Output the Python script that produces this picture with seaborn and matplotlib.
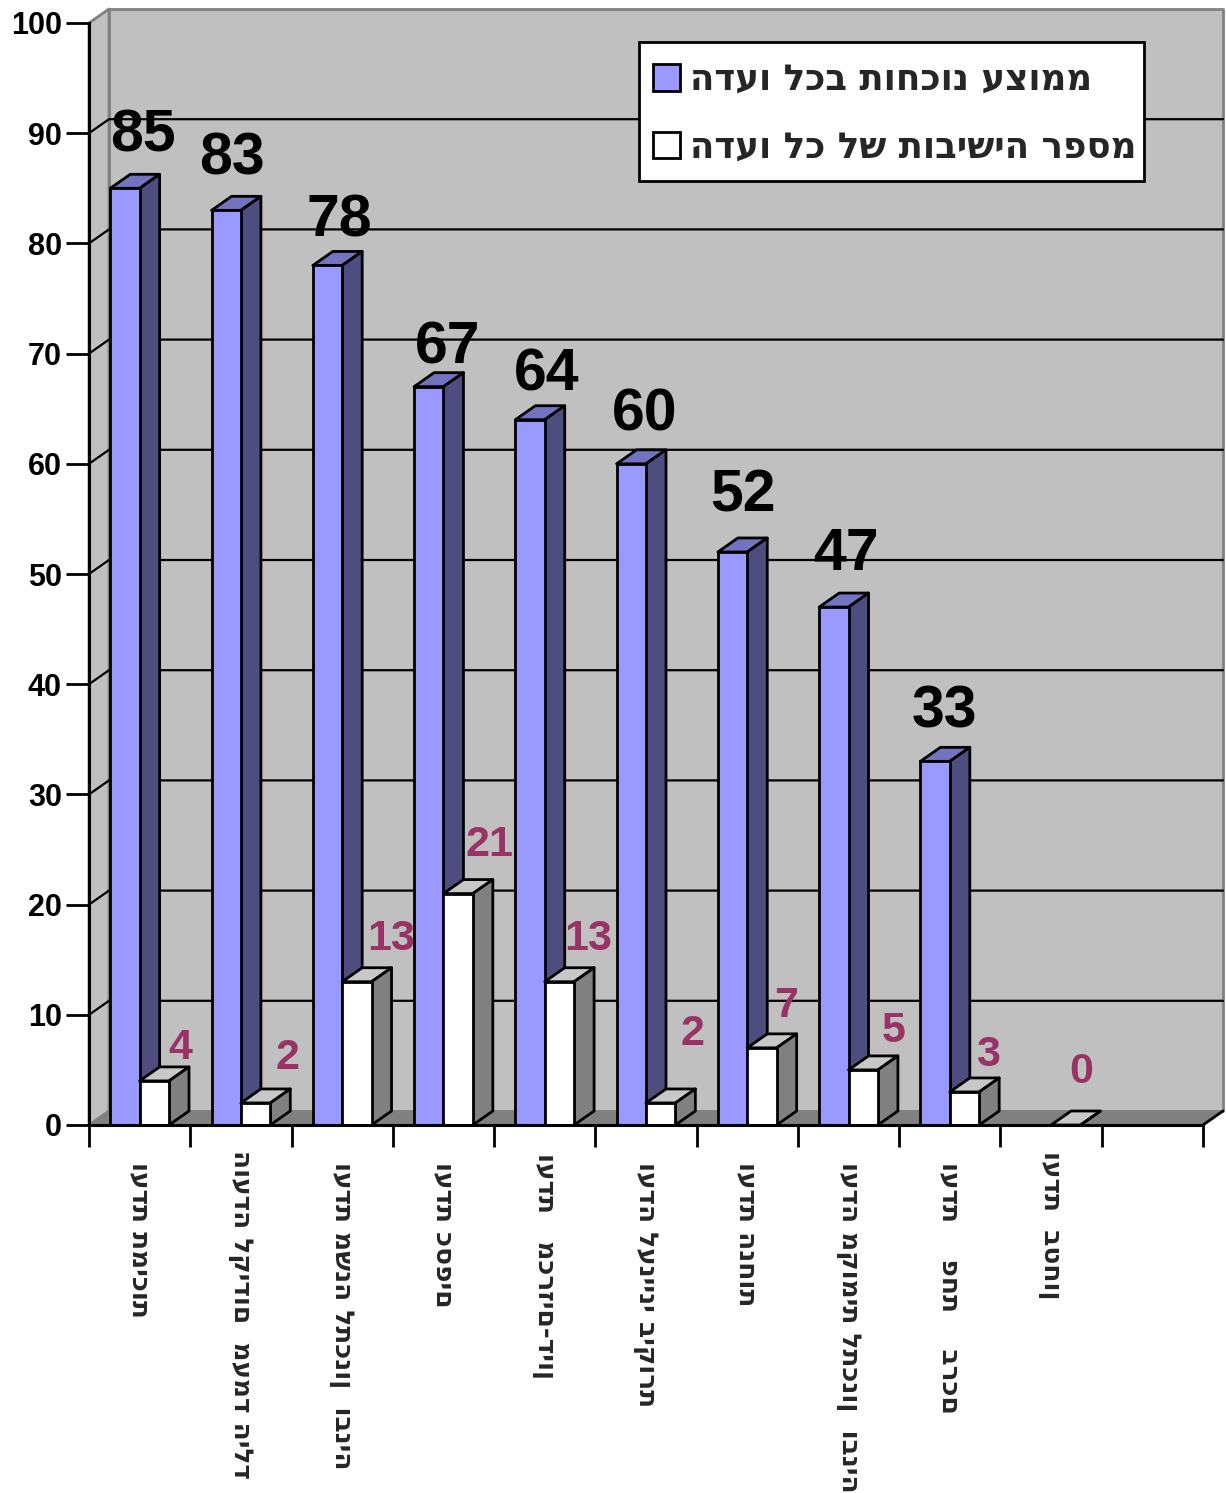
import matplotlib
matplotlib.use('Agg')
import matplotlib.pyplot as plt
from matplotlib.patches import Rectangle
import pandas as pd
import numpy as np
import seaborn as sns

# extra blanks between words: the original labels are spread out wider than the font
committees = ['ועדת תמיכות', 'הועדה לקידום  מעמד הילד', 'ועדת משנה לתכנון  ובניה', 'ועדת כספים',
              'ועדת   מכרזים-דיון', 'ועדה לענייני ביקורת', 'ועדת הנחות', 'ועדה מקומית לתכנון  ובניה',
              'ועדת    פחת    ברכם', 'ועדת  בטחון']
attendance = [85, 83, 78, 67, 64, 60, 52, 47, 33, None]
meetings = [4, 2, 13, 21, 13, 2, 7, 5, 3, 0]
attendance_name = 'ממוצע נוכחות בכל ועדה'
meetings_name = 'מספר הישיבות של כל ועדה'
y_ticks = list(range(0, 101, 10))

# hand placed labels in the original, offsets in pixels from the bar top
attendance_dx = [18, 6, 12, 19, 17, 13, 10, 12, 9]
attendance_dy = [52, 51, 44, 39, 45, 49, 56, 53, 49]
meetings_dx = [26, 32, 34, 31, 29, 32, 24, 30, 23, 15]
meetings_dy = [33, 45, 43, 49, 43, 69, 42, 39, 37, 53]
label_pads = [27, 18, 27, 27, 20, 27, 27, 27, 27, 19]

sns.set_style('white')
plt.rcParams['font.family'] = ['Liberation Sans', 'DejaVu Sans']
plt.rcParams['font.weight'] = 'bold'

W, H = 1226, 1493
LW = 2.0
fig = plt.figure(figsize=(W / 100, H / 100), dpi=100)
ax = fig.add_axes([89 / W, 1 - 1125 / H, (1203 - 89) / W, (1125 - 23) / H])

df = pd.DataFrame({'committee': committees * 2,
                   'value': attendance + meetings,
                   'series': [attendance_name] * 10 + [meetings_name] * 10})
df = df.dropna()
sns.barplot(data=df, x='committee', y='value', hue='series', order=committees,
            palette=['#9999FF', '#FFFFFF'], width=0.58, gap=0, edgecolor='black',
            linewidth=LW, saturation=1, ax=ax, legend=True)

ax.set_xlim(-0.5, 10.5)
ax.set_ylim(0, 100)
depth_x = 20 / ((1203 - 89) / 11)
depth_y = 14 / ((1125 - 23) / 100)
x0, x1 = ax.get_xlim()


def face(xs, ys, color, zorder, edge='black', lw=LW):
    ax.fill(xs, ys, facecolor=color, edgecolor=edge, linewidth=lw, zorder=zorder,
            clip_on=False, joinstyle='round')


# walls and floor
face([x0 + depth_x, x1 + depth_x, x1 + depth_x, x0 + depth_x], [depth_y, depth_y, 100 + depth_y, 100 + depth_y],
     '#C0C0C0', 0.1, '#808080', 2)
face([x0, x0 + depth_x, x0 + depth_x, x0], [0, depth_y, 100 + depth_y, 100], '#C0C0C0', 0.2, '#808080', 2)
face([x0, x1, x1 + depth_x, x0 + depth_x], [0, 0, depth_y, depth_y], '#808080', 0.3, '#808080', 1)
ax.plot([x1, x1 + depth_x], [0, depth_y], color='black', lw=LW, zorder=0.6, clip_on=False)

for v in y_ticks[1:-1]:
    ax.plot([x0, x0 + depth_x, x1 + depth_x], [v, v + depth_y, v + depth_y], color='black', lw=1.6,
            zorder=0.5, clip_on=False)

# 3d sides of the bars
groups = [(ax.containers[0], '#7373BF', '#4D4D80', 2), (ax.containers[1], '#C8C8C8', '#808080', 4)]
for bars, top, side, z in groups:
    for b in bars:
        left, w, h = b.get_x(), b.get_width(), b.get_height()
        if np.isnan(h):
            continue
        b.set_zorder(z + 0.2)
        face([left, left + w, left + w + depth_x, left + depth_x], [h, h, h + depth_y, h + depth_y], top, z)
        face([left + w, left + w + depth_x, left + w + depth_x, left + w], [0, depth_y, h + depth_y, h], side, z)

for b, v, dx, dy in zip(ax.containers[0], attendance, attendance_dx, attendance_dy):
    ax.annotate(str(v), (b.get_x() + b.get_width() / 2, v), xytext=(dx, dy), textcoords='offset pixels',
                ha='center', va='center', fontsize=42.5, color='black', zorder=8, annotation_clip=False)
for b, v, dx, dy in zip(ax.containers[1], meetings, meetings_dx, meetings_dy):
    ax.annotate(str(v), (b.get_x() + b.get_width() / 2, v), xytext=(dx, dy), textcoords='offset pixels',
                ha='center', va='center', fontsize=31, color='#993366', zorder=8, annotation_clip=False)

# ticks sit on the category boundaries, labels in between
ax.set_yticks(y_ticks)
ax.tick_params(axis='y', length=16.5, width=LW, color='black', labelsize=22, pad=3, left=True, labelcolor='black')
ax.set_xticks(np.arange(x0, x1 + 0.5))
ax.set_xticklabels([])
ax.tick_params(axis='x', which='major', length=16, width=LW, color='black', bottom=True)
ax.set_xticks(np.arange(len(committees)), committees, minor=True)
ax.tick_params(axis='x', which='minor', length=0, labelsize=19, labelrotation=-90)
for tick, pad in zip(ax.xaxis.get_minor_ticks(), label_pads):
    tick.set_pad(pad)
    tick.label1.set_family('DejaVu Sans')
ax.set_xlabel('')
ax.set_ylabel('')

sns.despine(ax=ax)
for name in ['left', 'bottom']:
    ax.spines[name].set_color('black')
    ax.spines[name].set_linewidth(2.2)
    ax.spines[name].set_zorder(7)

# frame of the legend drawn apart, its padding is not even in the original
fig.add_artist(Rectangle((639 / W, 1 - 181 / H), 505 / W, 139 / H, transform=fig.transFigure,
                         facecolor='white', edgecolor='black', linewidth=2, zorder=9))
handles, labels = ax.get_legend_handles_labels()
leg = fig.legend(handles, [s[::-1] for s in labels], loc='upper left', bbox_to_anchor=(653 / W, 1 - 63 / H),
                 bbox_transform=fig.transFigure, borderaxespad=0, borderpad=0, frameon=False,
                 handlelength=0.76, handleheight=0.76, handletextpad=0.28, labelspacing=0.93,
                 prop={'family': 'DejaVu Sans', 'weight': 'bold', 'size': 25.7})
leg.set_zorder(10)
ax.get_legend().remove()

fig.savefig('out.png', dpi=100)
